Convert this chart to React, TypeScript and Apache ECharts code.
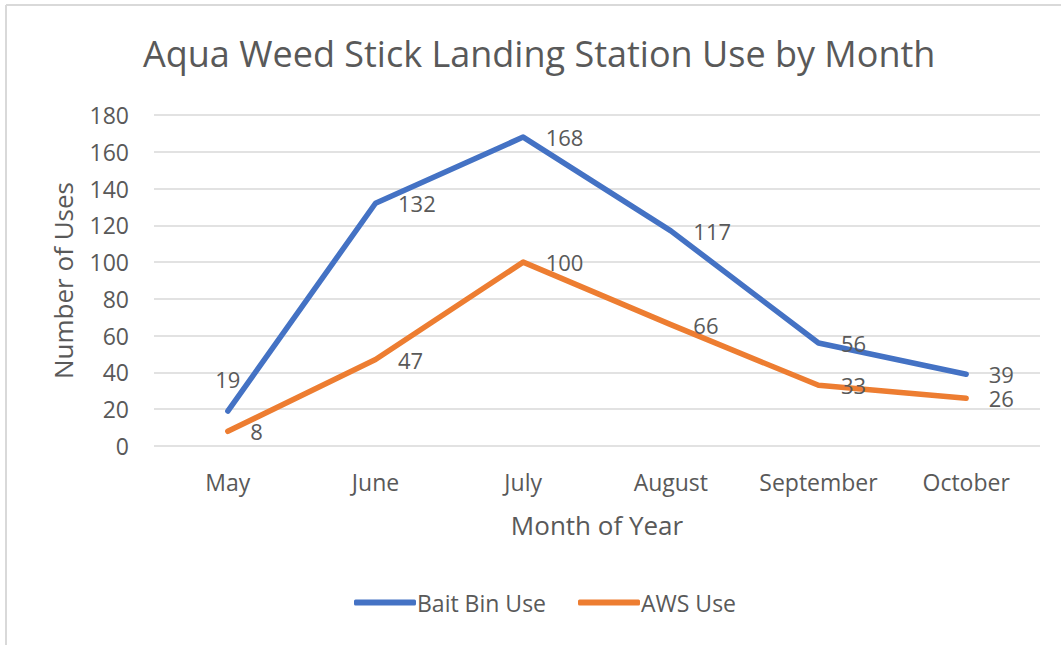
import React, { useEffect, useRef } from "react";
import * as echarts from "echarts";

const months = ["May", "June", "July", "August", "September", "October"];
const baitBin = [19, 132, 168, 117, 56, 39];
const aws = [8, 47, 100, 66, 33, 26];
const yTicks = { min: 0, max: 180, interval: 20 };

const FONT = "'Open Sans', sans-serif";
const TXT = "#595959";
const BLUE = "#4472C4";
const ORANGE = "#ED7D31";

export default function App() {
  const ref = useRef<HTMLDivElement>(null);
  useEffect(() => {
    const chart = echarts.init(ref.current!, null, { renderer: "svg" });
    const labelRight = {
      show: true,
      position: "right",
      distance: 22,
      color: TXT,
      fontSize: 22,
      lineHeight: 20,
      fontFamily: FONT,
    };
    const last = months.length - 1;
    chart.setOption({
      animation: false,
      backgroundColor: "#fff",
      title: {
        text: "Aqua Weed Stick Landing Station Use by Month",
        left: 138,
        top: 30,
        textStyle: { color: TXT, fontSize: 36, fontWeight: "normal", fontFamily: FONT },
      },
      graphic: [
        { type: "line", shape: { x1: 6, y1: 5, x2: 1061, y2: 5 }, style: { stroke: "#d9d9d9", lineWidth: 2 } },
        { type: "line", shape: { x1: 6, y1: 5, x2: 6, y2: 645 }, style: { stroke: "#d9d9d9", lineWidth: 2 } },
      ],
      grid: { left: 154, right: 21, top: 115, bottom: 199, containLabel: false },
      legend: {
        bottom: 26,
        left: 349,
        itemWidth: 62,
        itemHeight: 6,
        itemGap: 32,
        icon: "roundRect",
        textStyle: { color: TXT, fontSize: 23, fontFamily: FONT, padding: [0, 0, 0, -4] },
        data: [
          { name: "Bait Bin Use", itemStyle: { color: BLUE, opacity: 1 } },
          { name: "AWS Use", itemStyle: { color: ORANGE, opacity: 1 } },
        ],
      },
      xAxis: {
        type: "category",
        data: months,
        boundaryGap: true,
        name: "Month of Year",
        nameLocation: "middle",
        nameGap: 66,
        nameTextStyle: { color: TXT, fontSize: 26, fontFamily: FONT },
        axisLine: { show: false },
        axisTick: { show: false },
        axisLabel: { color: TXT, fontSize: 23, fontFamily: FONT, margin: 24, interval: 0 },
      },
      yAxis: {
        type: "value",
        min: yTicks.min,
        max: yTicks.max,
        interval: yTicks.interval,
        name: "Number of Uses",
        nameLocation: "middle",
        nameGap: 78,
        nameTextStyle: { color: TXT, fontSize: 26, fontFamily: FONT },
        axisLine: { show: false },
        axisTick: { show: false },
        axisLabel: { color: TXT, fontSize: 23, fontFamily: FONT, margin: 25 },
        splitLine: { lineStyle: { color: "#d9d9d9", width: 1.5 } },
      },
      series: [
        {
          name: "Bait Bin Use",
          type: "line",
          data: baitBin.map((v, i) =>
            i === 0
              ? { value: v, label: { position: "top", distance: 22 } }
              : i === last
              ? { value: v, label: { offset: [0, -2] } }
              : v
          ),
          showSymbol: true,
          symbol: "circle",
          symbolSize: 1,
          lineStyle: { color: BLUE, width: 5.5, cap: "round", join: "round" },
          itemStyle: { color: "rgba(0,0,0,0)" },
          label: labelRight,
          labelLayout: { hideOverlap: false },
          z: 3,
        },
        {
          name: "AWS Use",
          type: "line",
          data: aws.map((v, i) => (i === last ? { value: v, label: { offset: [0, 3] } } : v)),
          showSymbol: true,
          symbol: "circle",
          symbolSize: 1,
          lineStyle: { color: ORANGE, width: 5.5, cap: "round", join: "round" },
          itemStyle: { color: "rgba(0,0,0,0)" },
          label: labelRight,
          labelLayout: { hideOverlap: false },
          z: 2,
        },
      ],
    });
    return () => chart.dispose();
  }, []);
  return (
    <div
      ref={ref}
      style={{ position: "fixed", left: 0, top: 0, width: 1061, height: 645 }}
    />
  );
}
